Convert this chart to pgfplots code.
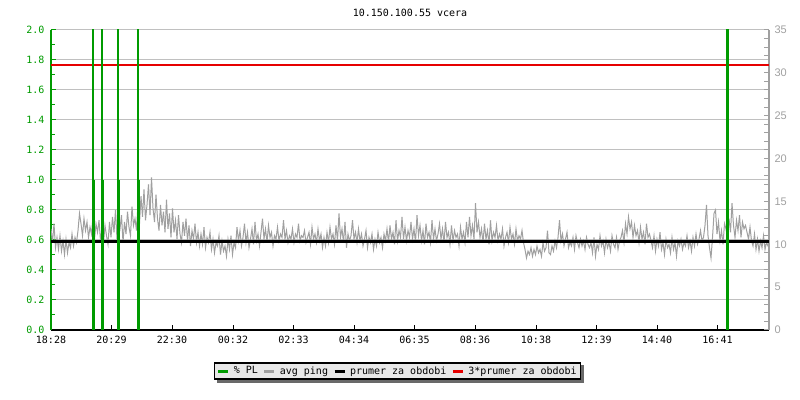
\documentclass[border=0pt]{standalone}
\usepackage{pgfplots}
\usepackage{pgfplotstable}
\pgfplotsset{compat=1.18}
\usepackage{fontspec}
\setmainfont{DejaVu Sans Mono}
\newfontfamily\rfont{Liberation Sans}
\pgfdeclarelayer{background}
\pgfsetlayers{background,main}

\definecolor{pl}{RGB}{0,155,0}
\definecolor{pinggray}{RGB}{160,160,160}
\definecolor{gridgray}{RGB}{192,192,192}
\definecolor{legbg}{RGB}{232,232,232}
\definecolor{shadowgray}{RGB}{105,105,105}
\definecolor{avgred}{RGB}{230,0,0}

% avg ping [ms], one sample every 3 minutes from 18:28
\pgfplotstableread[header=false, row sep=\\]{
11.8\\ 10.2\\ 12.4\\ 9.6\\ 10.8\\ 9.4\\ 11.0\\ 9.2\\ 10.4\\ 8.8\\ 10.6\\ 9.0\\ 10.2\\ 9.6\\ 11.2\\ 9.8\\ 10.8\\ 10.2\\ 11.6\\ 13.6\\
12.4\\ 11.0\\ 13.0\\ 11.6\\ 12.6\\ 10.8\\ 12.0\\ 11.2\\ 13.2\\ 10.6\\ 12.4\\ 11.4\\ 12.8\\ 10.4\\ 11.8\\ 10.2\\ 12.2\\ 11.0\\ 10.0\\ 12.6\\
10.8\\ 13.2\\ 11.4\\ 14.0\\ 10.6\\ 12.4\\ 11.8\\ 13.4\\ 10.2\\ 12.6\\ 11.2\\ 13.8\\ 12.0\\ 11.0\\ 14.4\\ 12.2\\ 13.0\\ 11.6\\ 14.8\\ 12.4\\
15.6\\ 13.2\\ 16.4\\ 12.8\\ 14.6\\ 17.0\\ 13.4\\ 17.8\\ 14.2\\ 12.6\\ 15.8\\ 13.0\\ 11.6\\ 14.6\\ 12.2\\ 13.8\\ 11.4\\ 15.2\\ 11.8\\ 13.6\\
10.8\\ 14.2\\ 11.4\\ 12.8\\ 10.6\\ 13.4\\ 11.2\\ 10.2\\ 12.6\\ 11.0\\ 13.0\\ 10.4\\ 12.2\\ 9.8\\ 11.6\\ 10.6\\ 12.4\\ 10.2\\ 11.4\\ 9.8\\
11.2\\ 10.0\\ 12.0\\ 9.6\\ 10.8\\ 10.2\\ 11.4\\ 9.4\\ 10.6\\ 9.0\\ 10.2\\ 9.8\\ 11.0\\ 8.8\\ 10.4\\ 9.2\\ 9.8\\ 8.6\\ 10.6\\ 9.4\\
11.0\\ 8.8\\ 10.2\\ 9.6\\ 12.0\\ 10.4\\ 11.6\\ 9.8\\ 10.8\\ 12.4\\ 10.2\\ 11.4\\ 9.6\\ 10.6\\ 11.8\\ 10.0\\ 12.6\\ 10.4\\ 11.2\\ 9.8\\
11.4\\ 13.0\\ 10.6\\ 11.8\\ 10.2\\ 12.2\\ 10.8\\ 11.4\\ 9.8\\ 11.0\\ 10.6\\ 12.0\\ 10.4\\ 11.2\\ 10.8\\ 12.8\\ 10.6\\ 11.6\\ 10.2\\ 11.0\\
10.6\\ 11.8\\ 10.2\\ 11.2\\ 10.8\\ 12.4\\ 10.4\\ 11.0\\ 10.8\\ 11.6\\ 10.2\\ 10.8\\ 11.4\\ 10.0\\ 12.0\\ 10.6\\ 11.2\\ 10.2\\ 11.8\\ 10.4\\
11.2\\ 9.6\\ 10.8\\ 9.8\\ 11.4\\ 10.2\\ 12.0\\ 10.6\\ 11.2\\ 10.0\\ 12.2\\ 10.4\\ 13.6\\ 10.8\\ 11.8\\ 10.2\\ 12.6\\ 9.6\\ 11.2\\ 10.4\\
11.0\\ 12.8\\ 10.6\\ 11.4\\ 10.2\\ 11.8\\ 10.4\\ 11.2\\ 9.8\\ 10.6\\ 11.6\\ 9.6\\ 10.8\\ 10.2\\ 11.2\\ 9.4\\ 10.6\\ 9.8\\ 11.4\\ 10.2\\
10.8\\ 9.6\\ 11.2\\ 10.4\\ 11.8\\ 10.2\\ 12.2\\ 10.6\\ 11.4\\ 10.0\\ 12.8\\ 10.4\\ 11.6\\ 10.8\\ 13.2\\ 10.6\\ 12.0\\ 10.4\\ 11.6\\ 10.8\\
12.6\\ 10.6\\ 11.8\\ 10.2\\ 13.4\\ 11.0\\ 12.2\\ 10.4\\ 11.6\\ 10.0\\ 12.4\\ 10.8\\ 11.4\\ 10.2\\ 12.8\\ 10.6\\ 11.8\\ 10.4\\ 11.2\\ 12.4\\
10.6\\ 11.8\\ 10.2\\ 12.6\\ 10.8\\ 11.4\\ 10.0\\ 12.2\\ 10.4\\ 11.6\\ 10.8\\ 11.2\\ 9.8\\ 12.0\\ 10.6\\ 11.4\\ 10.2\\ 12.6\\ 10.8\\ 13.2\\
11.0\\ 12.2\\ 10.6\\ 14.8\\ 11.4\\ 12.6\\ 10.8\\ 11.8\\ 10.2\\ 12.4\\ 10.6\\ 11.6\\ 10.0\\ 12.8\\ 10.4\\ 11.4\\ 10.8\\ 12.2\\ 10.4\\ 11.2\\
10.6\\ 11.8\\ 9.8\\ 10.8\\ 11.4\\ 10.2\\ 12.0\\ 10.6\\ 11.2\\ 10.0\\ 11.8\\ 10.4\\ 11.0\\ 10.6\\ 11.6\\ 10.2\\ 9.4\\ 8.4\\ 9.2\\ 8.8\\
9.6\\ 8.6\\ 9.4\\ 8.8\\ 9.8\\ 9.0\\ 9.4\\ 8.6\\ 10.2\\ 9.2\\ 9.6\\ 11.6\\ 9.0\\ 8.8\\ 9.8\\ 9.2\\ 10.4\\ 9.6\\ 10.8\\ 12.8\\
10.4\\ 11.2\\ 9.8\\ 10.6\\ 11.4\\ 9.6\\ 10.2\\ 9.8\\ 10.8\\ 9.4\\ 11.0\\ 10.2\\ 9.6\\ 10.6\\ 9.8\\ 10.4\\ 9.4\\ 10.8\\ 10.0\\ 9.6\\
10.2\\ 9.0\\ 10.8\\ 8.6\\ 10.0\\ 9.4\\ 11.0\\ 9.8\\ 10.4\\ 9.0\\ 10.6\\ 9.6\\ 10.2\\ 9.2\\ 11.0\\ 10.0\\ 9.6\\ 10.8\\ 9.4\\ 10.4\\
10.8\\ 11.6\\ 10.2\\ 12.4\\ 11.2\\ 13.2\\ 11.8\\ 12.6\\ 10.8\\ 12.2\\ 11.0\\ 11.6\\ 10.2\\ 12.0\\ 10.6\\ 11.4\\ 10.0\\ 12.4\\ 10.8\\ 11.2\\
10.4\\ 9.6\\ 11.0\\ 9.2\\ 10.6\\ 9.8\\ 11.4\\ 9.4\\ 10.2\\ 8.8\\ 10.6\\ 9.6\\ 10.0\\ 9.0\\ 10.8\\ 9.4\\ 10.2\\ 8.6\\ 10.4\\ 9.8\\
10.6\\ 9.4\\ 10.2\\ 9.8\\ 11.0\\ 9.6\\ 10.4\\ 9.2\\ 10.8\\ 9.8\\ 11.2\\ 10.0\\ 10.6\\ 11.6\\ 10.4\\ 10.8\\ 12.2\\ 14.6\\ 11.0\\ 9.6\\
8.4\\ 10.8\\ 13.6\\ 14.0\\ 11.2\\ 12.6\\ 10.4\\ 11.6\\ 10.0\\ 12.4\\ 11.8\\ 10.8\\ 13.0\\ 11.4\\ 14.8\\ 12.2\\ 10.8\\ 12.8\\ 11.6\\ 13.4\\
10.8\\ 12.6\\ 11.8\\ 12.2\\ 11.4\\ 10.6\\ 12.0\\ 10.4\\ 9.8\\ 11.2\\ 9.4\\ 10.6\\ 9.2\\ 10.4\\ 9.6\\ 11.0\\ 9.4\\ 10.2\\ 9.8\\ 10.6\\
}\pingdata

% packet loss [%], minutes from 18:28
\pgfplotstableread{
t v
84 1.0
102 1.0
134 1.0
174 1.0
1352 5.0
}\plthick
\pgfplotstableread{
t v
83 5.0
101 5.0
133 5.0
173 5.0
}\plthin

\begin{document}
\begin{tikzpicture}
\path[use as bounding box] (0,0) rectangle (800bp,400bp);
\node[font=\fontsize{10bp}{12bp}\selectfont] at (410bp,387bp) {10.150.100.55 vcera};

\begin{axis}[
  at={(51bp,70bp)}, anchor=south west,
  width=718bp, height=300bp, scale only axis,
  xmin=0, xmax=1436, ymin=0, ymax=2,
  axis x line*=bottom, axis y line*=left,
  axis line style={-},
  x axis line style={black, line width=1.5bp},
  y axis line style={pl, line width=1.5bp},
  xtick={0,121,242,364,485,606,727,848,970,1091,1212,1333},
  xticklabels={18:28,20:29,22:30,00:32,02:33,04:34,06:35,08:36,10:38,12:39,14:40,16:41},
  ytick={0,0.2,0.4,0.6,0.8,1.0,1.2,1.4,1.6,1.8,2.0},
  minor y tick num=1,
  ymajorgrids, grid style={gridgray, line width=1bp},
  tick align=inside,
  major tick length=5bp, minor tick length=4bp,
  x tick style={black, line width=1bp},
  y tick style={pl, line width=1bp},
  x tick label style={yshift=-2.5bp},
  y tick label style={pl, xshift=-3bp, /pgf/number format/.cd, fixed, fixed zerofill, precision=1},
  tick label style={font=\fontsize{10bp}{12bp}\selectfont},
  /pgf/number format/assume math mode=true,
]
\end{axis}

\begin{axis}[
  at={(51bp,70bp)}, anchor=south west,
  width=718bp, height=300bp, scale only axis,
  xmin=0, xmax=1436, ymin=0, ymax=35,
  axis y line*=right, axis x line=none,
  axis line style={-},
  y axis line style={pinggray, line width=1.5bp},
  ytick={0,5,10,15,20,25,30,35},
  minor y tick num=4,
  tick align=inside,
  major tick length=5bp, minor tick length=5bp,
  y tick style={pinggray, line width=1bp},
  y tick label style={pinggray, xshift=2bp, font=\rfont\fontsize{11bp}{13bp}\selectfont},
  /pgf/number format/assume math mode=true,
  legend columns=4,
  legend style={name=leg, at={(0.4826,-0.1367)}, anchor=center,
    fill=legbg, draw=black, line width=1.2bp,
    font=\fontsize{10bp}{12bp}\selectfont,
    inner sep=2bp,
    nodes={inner sep=1.5bp},
    /tikz/every odd column/.append style={column sep=2.5bp},
    /tikz/every even column/.append style={column sep=3.5bp}},
  legend image code/.code={\draw[#1, line width=3bp] (0bp,0bp) -- (10bp,0bp);},
]
\addlegendimage{pl}
\addlegendentry{\% PL}
\addplot[pinggray, line width=1bp] table[x expr=\coordindex*3, y index=0] {\pingdata};
\addlegendentry{avg ping}
\addplot[black, line width=3bp] coordinates {(0,10.3) (1436,10.3)};
\addlegendentry{prumer za obdobi}
\addplot[avgred, line width=2bp] coordinates {(0,30.9) (1436,30.9)};
\addlegendentry{3*prumer za obdobi}
\addplot[pl, ycomb, line width=3bp, forget plot] table[x=t, y expr=\thisrow{v}*17.5] {\plthick};
\addplot[pl, ycomb, line width=2bp, forget plot] table[x=t, y expr=\thisrow{v}*17.5] {\plthin};
\end{axis}
\begin{pgfonlayer}{background}
\fill[shadowgray] ([shift={(3bp,-3bp)}]leg.south west) rectangle ([shift={(3bp,-3bp)}]leg.north east);
\end{pgfonlayer}
\end{tikzpicture}
\end{document}
